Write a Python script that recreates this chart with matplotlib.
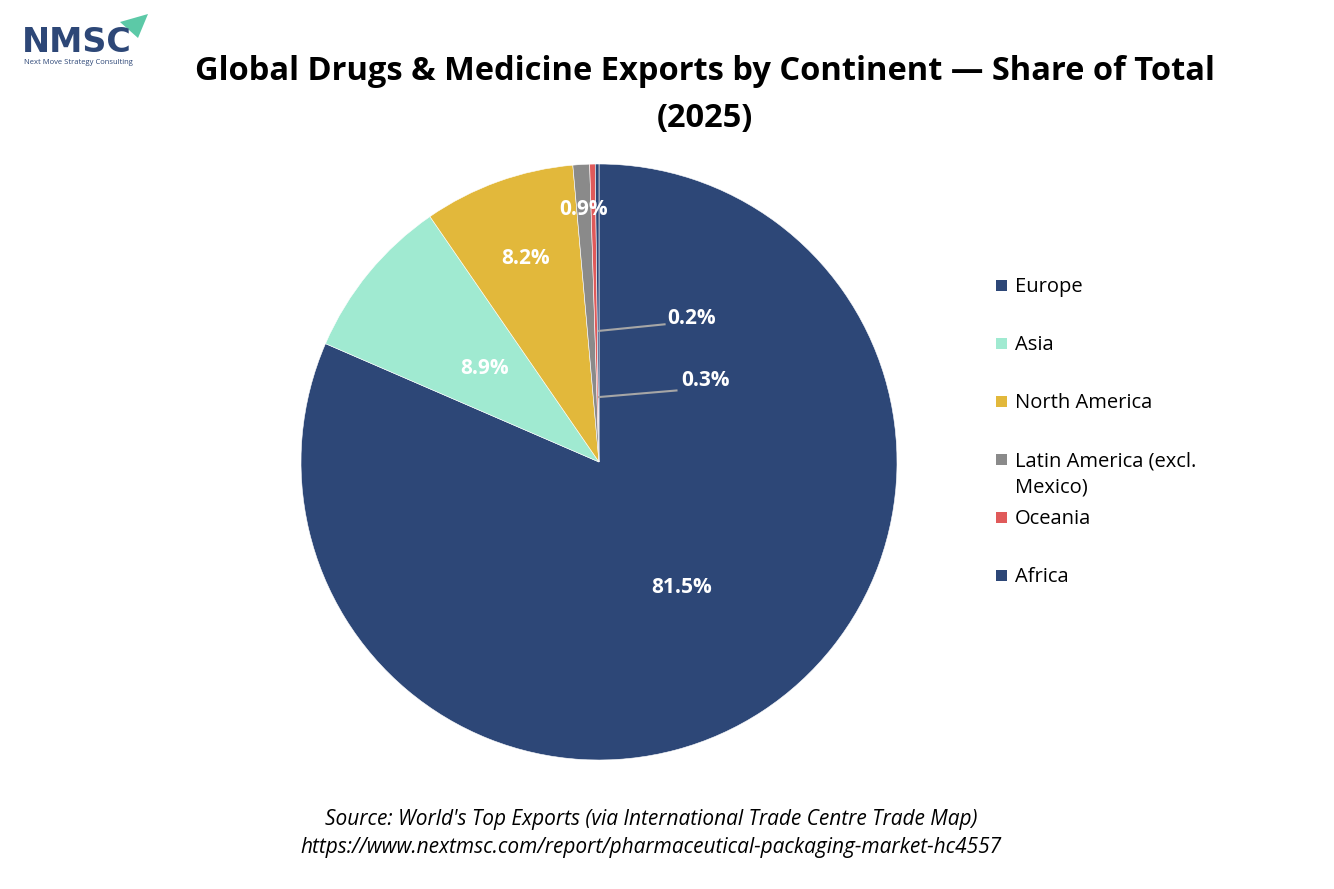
import numpy as np
import matplotlib.pyplot as plt
from matplotlib.patches import Polygon, Rectangle

continents = ["Europe", "Asia", "North America", "Latin America (excl.\nMexico)", "Oceania", "Africa"]
shares = [81.5, 8.9, 8.2, 0.9, 0.3, 0.2]
colors = ["#2D4777", "#A0EAD1", "#E2B83B", "#8A8A8A", "#E05A5A", "#2D4777"]
label_radius = [0.505, 0.495, 0.725, 0.85, None, None]

plt.rcParams["font.family"] = ["Open Sans", "DejaVu Sans"]

W, H = 1334, 889
fig = plt.figure(figsize=(W / 100, H / 100), dpi=100)
ax = fig.add_axes([301 / W, 1 - 760 / H, 596 / W, 596 / H])

wedges, _ = ax.pie(shares, colors=colors, startangle=90, counterclock=False,
                   wedgeprops=dict(edgecolor="white", linewidth=0.4))
ax.set_xlim(-1, 1)
ax.set_ylim(-1, 1)
ax.set_aspect("equal")

# labels inside the big slices
for w, v, r in zip(wedges, shares, label_radius):
    if r is None:
        continue
    mid = np.deg2rad((w.theta1 + w.theta2) / 2)
    ax.text(r * np.cos(mid), r * np.sin(mid), f"{v}%", ha="center", va="center",
            color="white", fontsize=15, fontweight="bold")

# leader-line labels for the tiny slices
callouts = {4: ((0.0, 0.218), (0.26, 0.24), (0.275, 0.272)),
            5: ((0.0, 0.44), (0.22, 0.462), (0.23, 0.483))}
for i, (start, knee, txt) in callouts.items():
    ax.plot([start[0], knee[0]], [start[1], knee[1]], color="#A6A6A6", lw=1.5)
    ax.text(txt[0], txt[1], f"{shares[i]}%", ha="left", va="center",
            color="white", fontsize=15, fontweight="bold")

fig.text(705 / W, 1 - 71 / H, "Global Drugs & Medicine Exports by Continent \u2014 Share of Total",
         ha="center", va="center", fontsize=23.5, fontweight="bold")
fig.text(705 / W, 1 - 118 / H, "(2025)", ha="center", va="center", fontsize=23.5, fontweight="bold")

# legend drawn by hand: fixed row pitch like the original
for k, (name, c) in enumerate(zip(continents, colors)):
    y = 285 + 58 * k
    fig.patches.append(Rectangle((996 / W, 1 - (y + 6) / H), 11 / W, 11 / H,
                                 transform=fig.transFigure, facecolor=c, edgecolor="none"))
    fig.text(1015 / W, 1 - (y - 8) / H, name, ha="left", va="top", fontsize=14.5,
             linespacing=1.45)

fig.text(651 / W, 1 - 820 / H, "Source: World's Top Exports (via International Trade Centre Trade Map)",
         ha="center", va="center", fontsize=15, style="italic")
fig.text(651 / W, 1 - 848 / H, "https://www.nextmsc.com/report/pharmaceutical-packaging-market-hc4557",
         ha="center", va="center", fontsize=15, style="italic")

# logo
fig.text(22 / W, 1 - 42 / H, "NMSC", ha="left", va="center", fontsize=24,
         fontweight="bold", color="#2D4777", family="DejaVu Sans")
fig.text(24 / W, 1 - 62 / H, "Next Move Strategy Consulting", ha="left", va="center",
         fontsize=5.5, color="#2D4777")
fig.patches.append(Polygon([[120 / W, 1 - 22 / H], [148 / W, 1 - 14 / H],
                            [138 / W, 1 - 38 / H]], closed=True, transform=fig.transFigure,
                           facecolor="#5CC9A7", edgecolor="none"))

fig.savefig("out.png", dpi=100, facecolor="white")
